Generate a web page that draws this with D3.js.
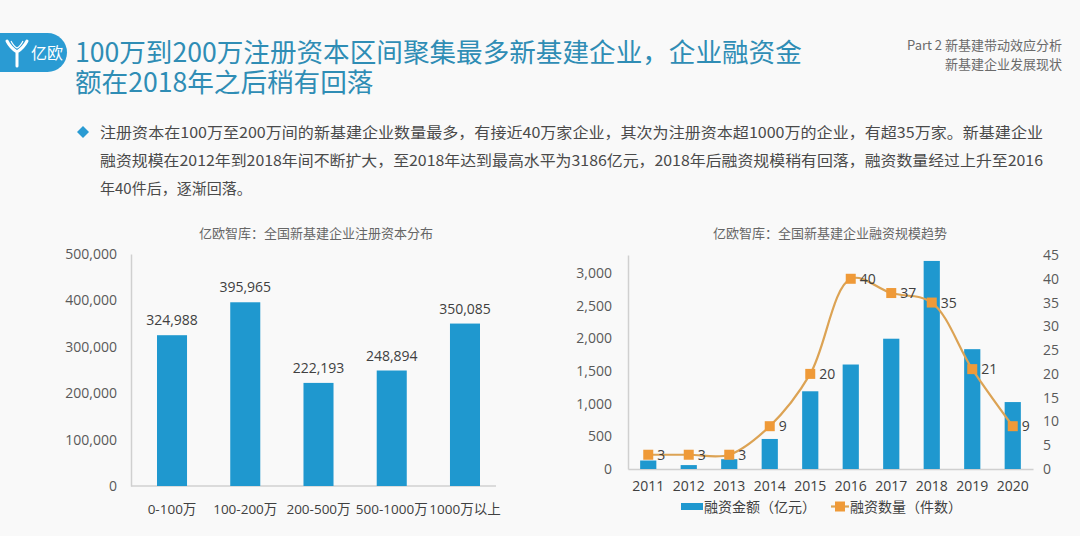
<!DOCTYPE html>
<html><head><meta charset="utf-8">
<script src="https://cdn.jsdelivr.net/npm/d3@7"></script>
<style>
html,body{margin:0;padding:0;background:#f9f9f9;}
svg{display:block;}
</style></head>
<body>
<svg id="c" width="1080" height="536"></svg>
<script>
// ---- data ----
const regCats = ["0-100万", "100-200万", "200-500万", "500-1000万", "1000万以上"];
const regValues = [324988, 395965, 222193, 248894, 350085];
const regTicks = [0, 100000, 200000, 300000, 400000, 500000];

const years = ["2011","2012","2013","2014","2015","2016","2017","2018","2019","2020"];
const finAmount = [130, 60, 150, 460, 1190, 1600, 1995, 3186, 1835, 1025];
const finCount = [3, 3, 3, 9, 20, 40, 37, 35, 21, 9];
const amountTicks = [0, 500, 1000, 1500, 2000, 2500, 3000];
const countTicks = [0, 5, 10, 15, 20, 25, 30, 35, 40, 45];

const titleLines = ["100万到200万注册资本区间聚集最多新基建企业，企业融资金", "额在2018年之后稍有回落"];
const headerRight = ["Part 2 新基建带动效应分析", "新基建企业发展现状"];
const bulletLines = [
  "注册资本在100万至200万间的新基建企业数量最多，有接近40万家企业，其次为注册资本超1000万的企业，有超35万家。新基建企业",
  "融资规模在2012年到2018年间不断扩大，至2018年达到最高水平为3186亿元，2018年后融资规模稍有回落，融资数量经过上升至2016",
  "年40件后，逐渐回落。"
];
const leftTitle = "亿欧智库：全国新基建企业注册资本分布";
const rightTitle = "亿欧智库：全国新基建企业融资规模趋势";
const legendNames = ["融资金额（亿元）", "融资数量（件数）"];

// ---- style ----
const BLUE = "#1f98cf";
const ORANGE = "#ef9a38";
const LINEC = "#dca354";
const TXT = "#404040";
const AX = "#595959";
const CJK = "'Noto Sans CJK SC', sans-serif";
const NUM = "'Open Sans', 'Noto Sans CJK SC', sans-serif";

const svg = d3.select("#c");
svg.append("rect").attr("width",1080).attr("height",536).attr("fill","#f9f9f9");

// ---- header ----
const logo = svg.append("g");
logo.append("rect").attr("x",-30).attr("y",33).attr("width",97).attr("height",39).attr("rx",19.5).attr("fill","#2a9bd3");
logo.append("path").attr("d","M7,41 C10,47 14,50 17,52 L17,66 M27,41 C24,47 20,50 17,52")
  .attr("fill","none").attr("stroke","#fff").attr("stroke-width",3).attr("stroke-linecap","round");
logo.append("path").attr("d","M11,41 C13,45 15,47 17,48 C19,47 21,45 23,41")
  .attr("fill","none").attr("stroke","#fff").attr("stroke-width",1.2);
logo.append("text").attr("x",31).attr("y",59).attr("font-family",CJK).attr("font-size",16)
  .attr("fill","#fff").text("亿欧");

svg.selectAll(".tl").data(titleLines).join("text")
  .attr("x",75).attr("y",(d,i)=>62+i*30)
  .attr("font-family",CJK).attr("font-size",26.6).attr("fill","#2f8db5")
  .text(d=>d);

svg.selectAll(".hr").data(headerRight).join("text")
  .attr("x",1062).attr("y",(d,i)=>50+i*19).attr("text-anchor","end")
  .attr("font-family",CJK).attr("font-size",13).attr("fill","#6a6a6a")
  .text(d=>d);

// bullet
svg.append("path").attr("d","M83,126 L89,132 L83,138 L77,132 Z").attr("fill","#2a9bd3");
svg.selectAll(".bl").data(bulletLines).join("text")
  .attr("x",100).attr("y",(d,i)=>138+i*28)
  .attr("font-family",CJK).attr("font-size",15).attr("fill","#4a4a4a")
  .attr("textLength",(d,i)=> i<2 ? 943 : null)
  .attr("lengthAdjust","spacingAndGlyphs")
  .text(d=>d);

// ---- left chart ----
const lx = d3.scaleBand().domain(regCats).range([131, 506]).paddingInner(0.59).paddingOuter(0.355);
const ly = d3.scaleLinear().domain([0, 500000]).range([486, 254]);

svg.append("text").attr("x",316).attr("y",238).attr("text-anchor","middle")
  .attr("font-family",CJK).attr("font-size",13).attr("fill","#666").text(leftTitle);

const gL = svg.append("g");
gL.append("g").attr("transform","translate(131,0)")
  .call(d3.axisLeft(ly).tickValues(regTicks).tickFormat(d3.format(",")).tickSize(0).tickPadding(14))
  .call(g=>{
    g.select(".domain").attr("stroke","#d0d0d0").attr("stroke-width",1.5);
    g.selectAll("text").attr("font-family",NUM).attr("font-size",14).attr("fill",AX);
  });
gL.append("line").attr("x1",131).attr("x2",496).attr("y1",ly(0)).attr("y2",ly(0))
  .attr("stroke","#d0d0d0").attr("stroke-width",1.5);

gL.selectAll(".bar").data(regValues).join("rect")
  .attr("x",(d,i)=>lx(regCats[i])).attr("width",lx.bandwidth())
  .attr("y",d=>ly(d)).attr("height",d=>ly(0)-ly(d)).attr("fill",BLUE);
gL.selectAll(".vl").data(regValues).join("text")
  .attr("x",(d,i)=>lx(regCats[i])+lx.bandwidth()/2).attr("y",d=>ly(d)-10)
  .attr("text-anchor","middle").attr("font-family",NUM).attr("font-size",14).attr("fill",TXT)
  .text(d=>d3.format(",")(d));
gL.selectAll(".cl").data(regCats).join("text")
  .attr("x",d=>lx(d)+lx.bandwidth()/2).attr("y",514)
  .attr("text-anchor","middle").attr("font-family",NUM).attr("font-size",13.5).attr("fill",TXT)
  .text(d=>d);

// ---- right chart ----
const rx = d3.scaleBand().domain(years).range([628, 1033]).paddingInner(0.6).paddingOuter(0.3);
const ryL = d3.scaleLinear().domain([0, 3277]).range([469, 255]);
const ryR = d3.scaleLinear().domain([0, 45]).range([469, 255]);

svg.append("text").attr("x",830).attr("y",238).attr("text-anchor","middle")
  .attr("font-family",CJK).attr("font-size",13).attr("fill","#666").text(rightTitle);

const gR = svg.append("g");
gR.append("g").attr("transform","translate(628,0)")
  .call(d3.axisLeft(ryL).tickValues(amountTicks).tickFormat(d3.format(",")).tickSize(0).tickPadding(16))
  .call(g=>{
    g.select(".domain").attr("stroke","#d0d0d0").attr("stroke-width",1.5);
    g.selectAll("text").attr("font-family",NUM).attr("font-size",14).attr("fill",AX);
  });
gR.append("g").attr("transform","translate(1033,0)")
  .call(d3.axisRight(ryR).tickValues(countTicks).tickSize(0).tickPadding(10))
  .call(g=>{
    g.select(".domain").remove();
    g.selectAll("text").attr("font-family",NUM).attr("font-size",14).attr("fill",AX);
  });
gR.append("g").attr("transform","translate(0,469)")
  .call(d3.axisBottom(rx).tickSize(0).tickPadding(12))
  .call(g=>{
    g.select(".domain").attr("stroke","#d0d0d0").attr("stroke-width",1.5);
    g.selectAll("text").attr("font-family",NUM).attr("font-size",14).attr("fill",TXT);
  });

gR.selectAll(".rb").data(finAmount).join("rect")
  .attr("x",(d,i)=>rx(years[i])).attr("width",rx.bandwidth())
  .attr("y",d=>ryL(d)).attr("height",d=>ryL(0)-ryL(d)).attr("fill",BLUE);

const line = d3.line().x((d,i)=>rx(years[i])+rx.bandwidth()/2).y(d=>ryR(d)).curve(d3.curveCatmullRom.alpha(0.5));
gR.append("path").datum(finCount).attr("d",line).attr("fill","none").attr("stroke",LINEC).attr("stroke-width",2.2);
gR.selectAll(".mk").data(finCount).join("rect")
  .attr("x",(d,i)=>rx(years[i])+rx.bandwidth()/2-5).attr("y",d=>ryR(d)-5)
  .attr("width",10).attr("height",10).attr("fill",ORANGE);
gR.selectAll(".ml").data(finCount).join("text")
  .attr("x",(d,i)=>rx(years[i])+rx.bandwidth()/2+9).attr("y",d=>ryR(d)+5)
  .attr("font-family",NUM).attr("font-size",14).attr("fill",TXT).text(d=>d);

// legend
const lg = svg.append("g");
lg.append("rect").attr("x",681).attr("y",503).attr("width",22).attr("height",7).attr("fill",BLUE);
lg.append("text").attr("x",704).attr("y",512).attr("font-family",CJK).attr("font-size",14).attr("fill",TXT).text(legendNames[0]);
lg.append("line").attr("x1",831).attr("x2",849).attr("y1",506.5).attr("y2",506.5).attr("stroke",LINEC).attr("stroke-width",2.2);
lg.append("rect").attr("x",835).attr("y",501.5).attr("width",10).attr("height",10).attr("fill",ORANGE);
lg.append("text").attr("x",850).attr("y",512).attr("font-family",CJK).attr("font-size",14).attr("fill",TXT).text(legendNames[1]);
</script>
</body></html>
